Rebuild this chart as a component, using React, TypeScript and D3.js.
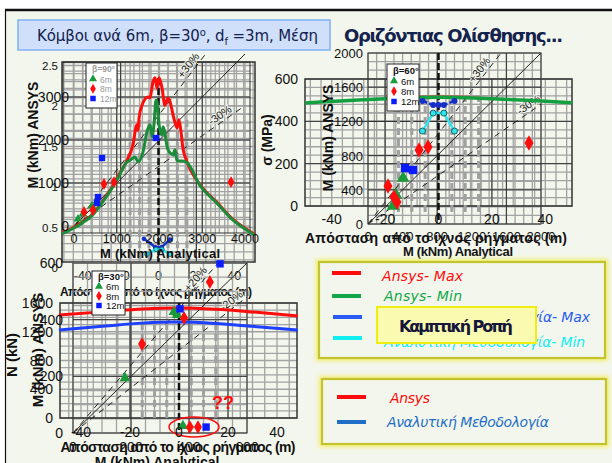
import React from "react";
import * as d3 from "d3";

type P = [number, number];

// ---------- Panel A (β=90°) : moment along the fault-normal distance + ANSYS vs analytical ----------
const distTicks = [-40, -20, 0, 20, 40];
const ratioTicks = [0, 0.5, 1, 1.5, 2, 2.5];
const scatATicksX = [0, 1000, 2000, 3000, 4000];
const scatATicksY = [0, 1000, 2000, 3000];

const ansysMaxA: P[] = [
  [-51, 0.43], [-45, 0.5], [-40, 0.57], [-35, 0.66], [-30, 0.81], [-25, 0.98], [-21, 1.15],
  [-16.6, 1.33], [-13.5, 1.52], [-11.4, 1.77], [-10.8, 1.7], [-10.3, 1.85], [-8.7, 2.01],
  [-5.5, 2.11], [-4.5, 2.1], [-2.9, 2.3], [-1.8, 2.35], [-0.8, 2.22], [0.3, 2.35], [1.8, 2.23],
  [3.4, 2.01], [5.0, 2.1], [8.7, 1.8], [9.8, 1.73], [10.8, 1.83], [11.9, 1.68], [12.9, 1.48],
  [15.1, 1.31], [21.9, 1.03], [30.9, 0.81], [39.4, 0.6], [48.4, 0.45], [51, 0.41],
];
const ansysMinA: P[] = [
  [-51, 0.42], [-45, 0.49], [-40, 0.56], [-35, 0.65], [-30, 0.8], [-25, 0.97], [-21, 1.13],
  [-16.6, 1.31], [-15.1, 1.33], [-12.4, 1.37], [-10.8, 1.31], [-8.2, 1.43], [-6.1, 1.68],
  [-4.5, 1.77], [-3.4, 1.62], [-2.4, 1.77], [-1.3, 2.07], [-0.8, 2.05], [0.3, 1.77], [1.8, 1.64],
  [2.4, 1.74], [5.0, 1.46], [7.7, 1.4], [8.7, 1.46], [9.8, 1.32], [12.9, 1.32], [15.1, 1.3],
  [21.9, 1.02], [30.9, 0.8], [39.4, 0.59], [48.4, 0.44], [51, 0.4],
];
const analMaxA: P[] = [[-7.7, 0.36], [-1.8, 0.26], [1.8, 0.26], [6.1, 0.35]];
const analMinA: P[] = [[-6.1, 0.17], [-1.3, 0.23], [1.8, 0.23], [6.1, 0.17]];

const scatA6m: P[] = [[94, 163], [211, 279], [421, 465], [538, 581]];
const scatA8m: P[] = [[234, 326], [444, 372], [702, 977], [936, 1023], [3673, 1023]];
const scatA12m: P[] = [[655, 1581], [561, 674], [538, 535], [1918, 2047]];

// ---------- Panel B (β=60°) : stress along the distance + ANSYS vs analytical ----------
const sigmaTicks = [0, 200, 400, 600];
const scatBTicks = [0, 400, 800, 1200, 1600, 2000];

const ansysMinB: P[] = [[-50, 487], [-35, 497], [-20, 507], [-10, 512], [0, 514], [10, 512], [20, 507], [35, 498], [50, 488]];
const ansysMaxB: P[] = [[-20, 509], [-8, 520], [0, 523], [8, 520], [20, 509]];
const analMaxB: P[] = [[-6, 496], [-2, 477], [0, 477], [2, 477], [6, 496]];
const analMinB: P[] = [[-6, 354], [-2, 439], [2, 439], [6, 354]];

const scatB6m: P[] = [[289, 211], [324, 339], [405, 538]];
const scatB8m: P[] = [[231, 444], [300, 316], [335, 257], [590, 865], [694, 900], [1861, 947]];
const scatB12m: P[] = [[428, 655], [520, 632]];

// ---------- Panel C (β=30°) : axial force along the distance + ANSYS vs analytical ----------
const nTicks = [0, 400, 800, 1200, 1600];
const scatCTicks = [0, 200, 400, 600];

const ansysN: P[] = [[-49, 1433], [-30, 1480], [-15, 1515], [0, 1530], [15, 1512], [30, 1475], [48.5, 1419]];
const analN: P[] = [[-49, 1224], [-30, 1280], [-15, 1320], [0, 1335], [15, 1315], [30, 1275], [48.5, 1224]];

const scatC6m: P[] = [[348, 427], [359, 417], [179, 194], [379, 25]];
const scatC8m: P[] = [[472, 533], [383, 406], [238, 314], [403, 21], [431, 21]];
const scatC12m: P[] = [[507, 597], [369, 438], [459, 21]];

const nodeOffsets = [-15, -10, -5, 5, 10, 15];
const refA = [1, 1.3, 0.7];
const refC = [1, 1.2, 0.8];

// ---------- colours ----------
const RED = "#ff0c0c";
const GREEN = "#1a8c3a";
const MGREEN = "#14a040";
const BLUE = "#0a1cff";
const DBLUE = "#1530c8";
const CYAN = "#2ee6f2";
const MINOR = "#a2a2a2";
const MAJOR = "#333";
const BG = "#f3f6ec";
const SANS = "'Liberation Sans', Arial, sans-serif";
const HAND = "'Comic Sans MS', 'DejaVu Sans', sans-serif";

type Box = { x0: number; x1: number; y0: number; y1: number };
type Lin = d3.ScaleLinear<number, number>;

const tri = (s: number) => d3.symbol(d3.symbolTriangle, s)() as string;
const dia = (s: number) => d3.symbol(d3.symbolDiamond, s)() as string;
const sqr = (s: number) => d3.symbol(d3.symbolSquare, s)() as string;

function grid(key: string, box: Box, xs: number[], ys: number[], stroke: string, sw: number) {
  return (
    <g key={key} stroke={stroke} strokeWidth={sw}>
      {xs.filter((v) => v >= box.x0 - 0.1 && v <= box.x1 + 0.1).map((v, i) => (
        <line key={"v" + i} x1={v} x2={v} y1={box.y0} y2={box.y1} />
      ))}
      {ys.filter((v) => v >= box.y0 - 0.1 && v <= box.y1 + 0.1).map((v, i) => (
        <line key={"h" + i} y1={v} y2={v} x1={box.x0} x2={box.x1} />
      ))}
    </g>
  );
}

function frame(box: Box, sw = 1.5) {
  return <rect x={box.x0} y={box.y0} width={box.x1 - box.x0} height={box.y1 - box.y0} fill="none" stroke={MAJOR} strokeWidth={sw} />;
}

function markers(pts: P[], sx: Lin, sy: Lin, d: string, color: string) {
  return pts.map((p, i) => (
    <path key={i} d={d} transform={`translate(${sx(p[0])},${sy(p[1])})`} fill={color} />
  ));
}

function curve(pts: P[], sx: Lin, sy: Lin, color: string, w: number, smooth = true, extra: any = {}) {
  const gen = d3.line<P>().x((p) => sx(p[0])).y((p) => sy(p[1])).curve(smooth ? d3.curveMonotoneX : d3.curveLinear);
  return <path d={gen(pts) as string} fill="none" stroke={color} strokeWidth={w} strokeLinejoin="round" {...extra} />;
}

function refLines(factors: number[], sx: Lin, sy: Lin, labels: string[], labelAt: number[], fs: number) {
  const [xm] = sx.domain().slice(-1);
  const ym = sy.domain()[1];
  return factors.map((k, i) => {
    const xe = Math.min(xm, ym / k);
    const x1 = sx(0), y1 = sy(0), x2 = sx(xe), y2 = sy(k * xe);
    const ang = (Math.atan2(y2 - y1, x2 - x1) * 180) / Math.PI;
    const lx = sx(labelAt[i]), ly = sy(k * labelAt[i]);
    return (
      <g key={i}>
        <line x1={x1} y1={y1} x2={x2} y2={y2} stroke="#222" strokeWidth={1}
          strokeDasharray={i === 0 ? undefined : "6,5"} />
        {labels[i] ? (
          <text x={lx} y={ly} transform={`rotate(${ang},${lx},${ly})`} fontSize={fs} textAnchor="middle" dy={-3} fill="#111" stroke={BG} strokeWidth={2} paintOrder="stroke">
            {labels[i]}
          </text>
        ) : null}
      </g>
    );
  });
}

function nodeLines(sx: Lin, y0: number, y1: number, c0: number, c1: number) {
  return (
    <g>
      {nodeOffsets.map((d, i) => (
        <line key={i} x1={sx(d)} x2={sx(d)} y1={y0} y2={y1} stroke="#a0a0a0" strokeWidth={3} strokeDasharray="7,4" />
      ))}
      <line x1={sx(0)} x2={sx(0)} y1={c0} y2={c1} stroke="#111" strokeWidth={2.5} strokeDasharray="7,3" />
    </g>
  );
}

function legend(x: number, y: number, w: number, h: number, title: string, fs: number, faded: boolean) {
  const tc = faded ? "#9a9a9a" : "#111";
  const step = (h - 6) / 4;
  const rows: [string, string, string][] = [["6m", tri(28), "#1a9a3a"], ["8m", dia(28), RED], ["12m", sqr(30), BLUE]];
  return (
    <g>
      <rect x={x} y={y} width={w} height={h} fill="#fff" stroke="#222" strokeWidth={1} />
      <text x={x + 6} y={y + step - 0.5} fontSize={fs} fontWeight="bold" fill={tc}>{title}</text>
      {rows.map((r, i) => (
        <g key={i}>
          <path d={r[1]} transform={`translate(${x + 7},${y + step * (i + 2) - 3.5})`} fill={r[2]} />
          <text x={x + 14} y={y + step * (i + 2)} fontSize={fs} fill={tc}>{r[0]}</text>
        </g>
      ))}
    </g>
  );
}

function vLabel(text: string, x: number, cy: number, fs: number, bold = true) {
  return (
    <text x={x} y={cy} transform={`rotate(-90,${x},${cy})`} textAnchor="middle" fontSize={fs} fontWeight={bold ? "bold" : "normal"} fill="#111">
      {text}
    </text>
  );
}

export default function App() {
  // ----- panel A scales -----
  const dAx = d3.scaleLinear().domain([-40, 40]).range([82.8, 234.2]);
  const dAy = d3.scaleLinear().domain([0, 2.5]).range([268, 65.5]);
  const sAx = d3.scaleLinear().domain([0, 4000]).range([74, 245]);
  const sAy = d3.scaleLinear().domain([0, 4000]).range([226, 54]);
  const boxAd: Box = { x0: 62, x1: 255, y0: 62, y1: 262 };
  const boxAs: Box = { x0: 63, x1: 250, y0: 62, y1: 233 };

  // ----- panel B scales -----
  const dBx = d3.scaleLinear().domain([-40, 40]).range([331.7, 545.3]);
  const dBy = d3.scaleLinear().domain([0, 600]).range([206, 79]);
  const sBx = d3.scaleLinear().domain([0, 2000]).range([368, 541]);
  const sBy = d3.scaleLinear().domain([0, 2000]).range([224, 53]);
  const boxBd: Box = { x0: 305, x1: 572, y0: 79, y1: 206 };
  const boxBs: Box = { x0: 368, x1: 541, y0: 53, y1: 224 };

  // ----- panel C scales -----
  const dCx = d3.scaleLinear().domain([-40, 40]).range([81, 277]);
  const dCy = d3.scaleLinear().domain([0, 1600]).range([418, 303]);
  const sCx = d3.scaleLinear().domain([0, 600]).range([73, 247]);
  const sCy = d3.scaleLinear().domain([0, 600]).range([433, 263]);
  const boxCd: Box = { x0: 60, x1: 297, y0: 303, y1: 418 };
  const boxCs: Box = { x0: 73, x1: 247, y0: 263, y1: 433 };

  const r = (a: number, b: number, s: number) => d3.range(a, b + s / 2, s);

  return (
    <svg width={612} height={463} style={{ position: "absolute", left: 0, top: 0 }} fontFamily={SANS}>
      <defs>
        <filter id="glow" x="-10%" y="-30%" width="120%" height="160%">
          <feGaussianBlur stdDeviation="2.2" />
        </filter>
      </defs>
      <rect x={0} y={0} width={612} height={463} fill="#fff" />
      <rect x={5} y={10} width={620} height={470} fill={BG} />
      <line x1={5} x2={612} y1={10} y2={10} stroke="#111" strokeWidth={2.5} />
      <line x1={5.5} x2={5.5} y1={10} y2={463} stroke="#111" strokeWidth={1.2} />

      {/* ================= Panel A ================= */}
      {grid("aDm", boxAd, r(-50, 50, 5).map(dAx), r(0, 2.5, 0.1).map(dAy), MINOR, 1.3)}
      {grid("aSm", boxAs, r(0, 4000, 200).map(sAx), r(0, 4000, 200).map(sAy), MINOR, 1.3)}
      {grid("aDM", boxAd, [-20, 20].map(dAx), [], MAJOR, 1)}
      {grid("aSM", boxAs, [1000, 3000].map(sAx), [1000, 2000, 3000].map(sAy), MAJOR, 1)}
      {frame(boxAd)}
      {frame(boxAs, 1)}
      {nodeLines(dAx, 120, 262, 78, 262)}
      {refLines(refA, sAx, sAy, ["", "+30%", "-30%"], [0, 2800, 3500], 11)}
      {curve(ansysMaxA, dAx, dAy, RED, 3)}
      {curve(ansysMinA, dAx, dAy, GREEN, 3)}
      {curve(analMaxA, dAx, dAy, DBLUE, 2.5, false)}
      {curve(analMinA, dAx, dAy, CYAN, 2.5, false)}
      {analMaxA.map((p, i) => <circle key={"am" + i} cx={dAx(p[0])} cy={dAy(p[1])} r={2.3} fill={DBLUE} />)}
      {analMinA.map((p, i) => <circle key={"an" + i} cx={dAx(p[0])} cy={dAy(p[1])} r={2.3} fill={CYAN} stroke="#155" strokeWidth={0.8} />)}
      {markers(scatA6m, sAx, sAy, tri(34), "#1a9a3a")}
      {markers(scatA8m, sAx, sAy, dia(40), RED)}
      {markers(scatA12m, sAx, sAy, sqr(40), BLUE)}
      {legend(86, 63, 31, 45, "β=90°", 8.5, true)}
      {scatATicksY.map((v) => <text key={"ay" + v} x={69} y={sAy(v) + 5} fontSize={14} textAnchor="end" fill="#111">{v}</text>)}
      {ratioTicks.map((v) => <text key={"ar" + v} x={58} y={dAy(v) + 4} fontSize={11.5} textAnchor="end" fill="#111">{v}</text>)}
      {scatATicksX.map((v) => <text key={"ax" + v} x={sAx(v)} y={243} fontSize={12.5} textAnchor="middle" fill="#111">{v}</text>)}
      {distTicks.map((v) => <text key={"ad" + v} x={dAx(v)} y={280} fontSize={12.5} textAnchor="middle" fill="#111">{v}</text>)}
      <text x={160} y={258} fontSize={13} fontWeight="bold" textAnchor="middle" textLength={120} fill="#111">M (kNm) Analytical</text>
      <text x={156} y={296} fontSize={12} fontWeight="bold" textAnchor="middle" textLength={192} fill="#111">Απόσταση από το ίχνος ρήγματος (m)</text>
      {vLabel("M (kNm) ANSYS", 38, 135, 14)}

      {/* ================= Panel C ================= */}
      {grid("cDm", boxCd, r(-50, 50, 5).map(dCx), r(0, 1600, 100).map(dCy), MINOR, 1.3)}
      {grid("cSm", boxCs, r(0, 600, 50).map(sCx), r(0, 600, 50).map(sCy), MINOR, 1.3)}
      {grid("cDM", boxCd, [-20, 20].map(dCx), [], MAJOR, 1)}
      {grid("cSM", boxCs, [200, 400].map(sCx), [200, 400].map(sCy), MAJOR, 1)}
      {frame(boxCd)}
      {frame(boxCs, 1)}
      {nodeLines(dCx, 323, 418, 303, 432)}
      {refLines(refC, sCx, sCy, ["", "+20%", "-20%"], [0, 440, 560], 11)}
      {curve(ansysN, dCx, dCy, RED, 3)}
      {curve(analN, dCx, dCy, "#1e40ff", 3)}
      {markers(scatC6m, sCx, sCy, tri(50), "#1a9a3a")}
      {markers(scatC8m, sCx, sCy, dia(55), RED)}
      {markers(scatC12m, sCx, sCy, sqr(55), BLUE)}
      <ellipse cx={194} cy={427} rx={25} ry={10} fill="none" stroke={RED} strokeWidth={1.5} />
      <text x={223} y={409} fontSize={18} fontWeight="bold" fill={RED} textAnchor="middle">??</text>
      {legend(92, 271, 33, 44, "β=30°", 9.5, false)}
      {nTicks.map((v) => <text key={"cn" + v} x={53} y={dCy(v) + 5} fontSize={14} textAnchor="end" fill="#111">{v}</text>)}
      {scatCTicks.map((v) => <text key={"cs" + v} x={63} y={sCy(v) + 5} fontSize={14} textAnchor="end" fill="#111">{v}</text>)}
      {distTicks.map((v) => <text key={"cd" + v} x={dCx(v)} y={437} fontSize={14} textAnchor="middle" fill="#111">{v}</text>)}
      {scatCTicks.map((v) => <text key={"cx" + v} x={sCx(v)} y={452} fontSize={14} textAnchor="middle" fill="#111">{v}</text>)}
      <text x={178} y={452} fontSize={14} fontWeight="bold" textAnchor="middle" textLength={235} fill="#111">Απόσταση από το ίχνος ρήγματος (m)</text>
      <text x={157} y={467} fontSize={14} fontWeight="bold" textAnchor="middle" fill="#111">M (kNm) Analytical</text>
      {vLabel("N (kN)", 17, 355, 15)}
      {vLabel("M (kNm) ANSYS", 43, 350, 15)}

      {/* ================= Panel B ================= */}
      {grid("bDm", boxBd, r(-48, 48, 4).map(dBx), r(0, 600, 40).map(dBy), MINOR, 1.3)}
      {grid("bSm", boxBs, r(0, 2000, 100).map(sBx), r(0, 2000, 100).map(sBy), MINOR, 1.3)}
      {grid("bDM", boxBd, [-20, 20].map(dBx), [200, 400].map(dBy), MAJOR, 1)}
      {grid("bSM", boxBs, [800, 1600].map(sBx), [400, 800, 1200, 1600].map(sBy), MAJOR, 1)}
      {frame(boxBd)}
      {frame(boxBs, 1)}
      {nodeLines(dBx, 95, 215, 53, 224)}
      {refLines(refA, sBx, sBy, ["", "+30%", "-30%"], [1350, 1350, 1900], 11)}
      {curve(ansysMaxB, dBx, dBy, "#e05050", 1.2, true, { opacity: 0.7 })}
      {curve(ansysMinB, dBx, dBy, MGREEN, 3.5)}
      {curve(analMaxB, dBx, dBy, DBLUE, 2.5, false, { strokeDasharray: "5,2" })}
      {curve(analMinB, dBx, dBy, CYAN, 2.5, false)}
      {analMaxB.map((p, i) => <circle key={"bm" + i} cx={dBx(p[0])} cy={dBy(p[1])} r={3} fill={DBLUE} />)}
      {analMinB.map((p, i) => <circle key={"bn" + i} cx={dBx(p[0])} cy={dBy(p[1])} r={3} fill={CYAN} stroke="#155" strokeWidth={0.9} />)}
      {markers(scatB6m, sBx, sBy, tri(70), "#1a9a3a")}
      {markers(scatB8m, sBx, sBy, dia(70), RED)}
      {markers(scatB12m, sBx, sBy, sqr(70), BLUE)}
      {legend(387, 64, 32, 47, "β=60°", 9.5, false)}
      {sigmaTicks.map((v) => <text key={"bs" + v} x={298} y={dBy(v) + 5} fontSize={14} textAnchor="end" fill="#111">{v}</text>)}
      {scatBTicks.map((v) => <text key={"by" + v} x={363} y={sBy(v) + 5} fontSize={13} textAnchor="end" fill="#111">{v}</text>)}
      {distTicks.map((v) => <text key={"bd" + v} x={dBx(v)} y={224} fontSize={14} textAnchor="middle" fill="#111">{v}</text>)}
      {scatBTicks.map((v) => <text key={"bx" + v} x={sBx(v)} y={241} fontSize={13} textAnchor="middle" fill="#111">{v}</text>)}
      <text x={436} y={243} fontSize={14} fontWeight="bold" textAnchor="middle" textLength={262} fill="#111">Απόσταση από το ίχνος ρήγματος (m)</text>
      <text x={458} y={256} fontSize={13} fontWeight="bold" textAnchor="middle" textLength={110} fill="#111">M (kNm) Analytical</text>
      {vLabel("σ (MPa)", 272, 140, 14)}
      {vLabel("M (kNm) ANSYS", 333, 138, 14)}

      {/* ================= Titles ================= */}
      <rect x={18} y={20} width={312} height={30} fill="#d0e0fb" stroke="#7fb2f2" strokeWidth={1.5} />
      <text x={37} y={41} fontSize={15} fill="#14224e" fontFamily={HAND} textLength={281}>
        Κόμβοι ανά 6m, β=30<tspan dy={-5} fontSize={10}>ο</tspan><tspan dy={5}>, d</tspan>
        <tspan dy={4} fontSize={10}>f</tspan><tspan dy={-4}> =3m, Μέση</tspan>
      </text>
      <text x={344} y={42} fontSize={18} fontWeight="bold" fill="#14224e" fontFamily={HAND} textLength={219}>Οριζόντιας Ολίσθησης...</text>

      {/* ================= Legends ================= */}
      <rect x={319} y={262} width={286} height={96} fill="none" stroke="#f2ee70" strokeWidth={6} filter="url(#glow)" />
      <rect x={319} y={262} width={286} height={96} fill={BG} stroke="#c4c42a" strokeWidth={2.2} />
      <line x1={332} x2={361} y1={273} y2={273} stroke={RED} strokeWidth={4} />
      <text x={382} y={281} fontSize={14} fontStyle="italic" fill={RED} fontFamily={HAND} textLength={81}>Ansys- Max</text>
      <line x1={332} x2={361} y1={296} y2={296} stroke="#12a84a" strokeWidth={4} />
      <text x={384} y={301} fontSize={14} fontStyle="italic" fill="#12a84a" fontFamily={HAND} textLength={78}>Ansys- Min</text>
      <line x1={333} x2={362} y1={317} y2={317} stroke="#2a5cf5" strokeWidth={4} />
      <text x={384} y={322} fontSize={14} fontStyle="italic" fill="#2a5cf5" fontFamily={HAND} textLength={206}>Αναλυτική Μεθοδολογία- Max</text>
      <line x1={333} x2={362} y1={338} y2={338} stroke="#10eef2" strokeWidth={4} />
      <text x={384} y={347} fontSize={14} fontStyle="italic" fill="#10eef2" fontFamily={HAND} textLength={201}>Αναλυτική Μεθοδολογία- Min</text>

      <rect x={377} y={307} width={159} height={36} fill="#fafab0" stroke="#f0ee10" strokeWidth={2} />
      <text x={456} y={332} fontSize={16} fontWeight="bold" fill="#14163a" textAnchor="middle" fontFamily={HAND} textLength={114}>Καμπτική Ροπή</text>

      <rect x={322} y={379} width={284} height={65} fill="none" stroke="#f2ee70" strokeWidth={6} filter="url(#glow)" />
      <rect x={322} y={379} width={284} height={65} fill={BG} stroke="#c4c42a" strokeWidth={2.2} />
      <line x1={337} x2={366} y1={397} y2={397} stroke={RED} strokeWidth={4} />
      <text x={390} y={403} fontSize={14} fontStyle="italic" fill={RED} fontFamily={HAND} textLength={40}>Ansys</text>
      <line x1={337} x2={366} y1={422} y2={422} stroke="#1f6fc8" strokeWidth={4} />
      <text x={387} y={427} fontSize={14} fontStyle="italic" fill="#1f6fc8" fontFamily={HAND} textLength={162}>Αναλυτική Μεθοδολογία</text>
    </svg>
  );
}
